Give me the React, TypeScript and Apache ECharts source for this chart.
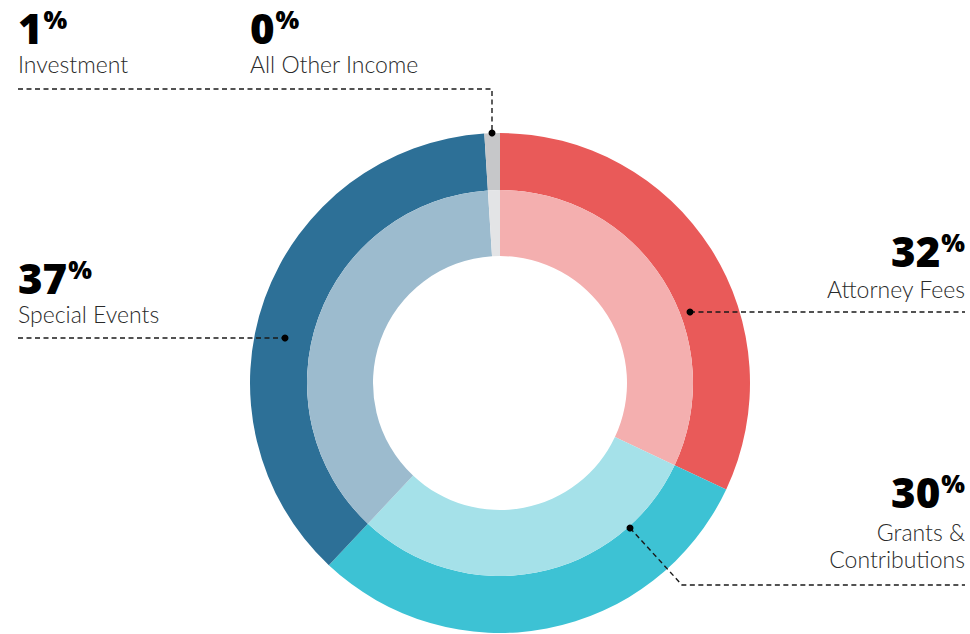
import React, { useEffect, useRef } from "react";
import * as echarts from "echarts";

const categories = ["Attorney Fees", "Grants & Contributions", "Special Events", "Investment", "All Other Income"];
const values = [32, 30, 37, 1, 0];
const outerColors = ["#E95A59", "#3DC2D4", "#2D7097", "#C6C7C9", "#C6C7C9"];
const innerColors = ["#F4AFAF", "#A5E1E9", "#9CBBCE", "#E3E4E6", "#E3E4E6"];
const labelNames = ["Attorney Fees", "Grants &\nContributions", "Special Events", "Investment", "All Other Income"];

const NUM_FONT = "'Open Sans', Roboto, sans-serif";
const NAME_FONT = "Lato, 'Open Sans', sans-serif";

export default function App() {
  const ref = useRef<HTMLDivElement>(null);
  useEffect(() => {
    document.body.style.margin = "0";
    const chart = echarts.init(ref.current!, undefined, { renderer: "svg" });
    const mk = (i: number, x: number, y: number, align: string) => ({
      type: "text",
      x,
      y,
      z: 10,
      style: {
        text: `{n|${values[i]}}{p|%}`,
        align,
        verticalAlign: "middle",
        rich: {
          n: { fontSize: 42, fontWeight: 800, fontFamily: NUM_FONT, fill: "#000", lineHeight: 42 },
          p: { fontSize: 25, fontWeight: 800, fontFamily: NUM_FONT, fill: "#000", verticalAlign: "top", lineHeight: 24, padding: [0, 0, 0, 1] },
        },
      },
    });
    const nm = (text: string, x: number, y: number, align: string, lh = 24) => ({
      type: "text",
      x,
      y,
      z: 10,
      style: {
        text,
        align,
        verticalAlign: "middle",
        fontSize: 23,
        fontWeight: 300,
        fontFamily: NAME_FONT,
        fill: "#2a2a2a",
        lineHeight: lh,
      },
    });
    const dash = (pts: number[][]) => ({
      type: "polyline",
      z: 10,
      shape: { points: pts },
      style: { stroke: "#1a1a1a", lineWidth: 1.4, lineDash: [5, 3.5], fill: null },
      silent: true,
    });
    const dot = (x: number, y: number) => ({
      type: "circle",
      z: 11,
      shape: { cx: x, cy: y, r: 3.5 },
      style: { fill: "#000" },
    });
    const data = (colors: string[]) =>
      categories.map((c, i) => ({ name: c, value: values[i], itemStyle: { color: colors[i] } }));

    chart.setOption({
      animation: false,
      series: [
        {
          type: "pie",
          center: [500, 383],
          radius: [193, 250],
          startAngle: 90,
          clockwise: true,
          label: { show: false },
          labelLine: { show: false },
          emphasis: { disabled: true },
          silent: true,
          data: data(outerColors),
        },
        {
          type: "pie",
          center: [500, 383],
          radius: [127, 193],
          startAngle: 90,
          clockwise: true,
          label: { show: false },
          labelLine: { show: false },
          emphasis: { disabled: true },
          silent: true,
          data: data(innerColors),
        },
      ],
      graphic: [
        mk(3, 18, 27, "left"),
        nm(labelNames[3], 18, 64, "left"),
        mk(4, 250, 27, "left"),
        nm(labelNames[4], 250, 64, "left"),
        mk(2, 18, 277, "left"),
        nm(labelNames[2], 18, 314, "left"),
        mk(0, 965, 250, "right"),
        nm(labelNames[0], 965, 289, "right"),
        mk(1, 965, 491, "right"),
        nm(labelNames[1], 965, 545, "right", 27),
        dash([[18, 89], [492, 89], [492, 133]]),
        dot(492, 133),
        dash([[18, 338], [285, 338]]),
        dot(285, 338),
        dash([[690, 312], [965, 312]]),
        dot(690, 312),
        dash([[630, 528], [682, 585], [965, 585]]),
        dot(630, 528),
      ],
    });
    return () => chart.dispose();
  }, []);
  return <div ref={ref} style={{ width: 970, height: 634 }} />;
}
